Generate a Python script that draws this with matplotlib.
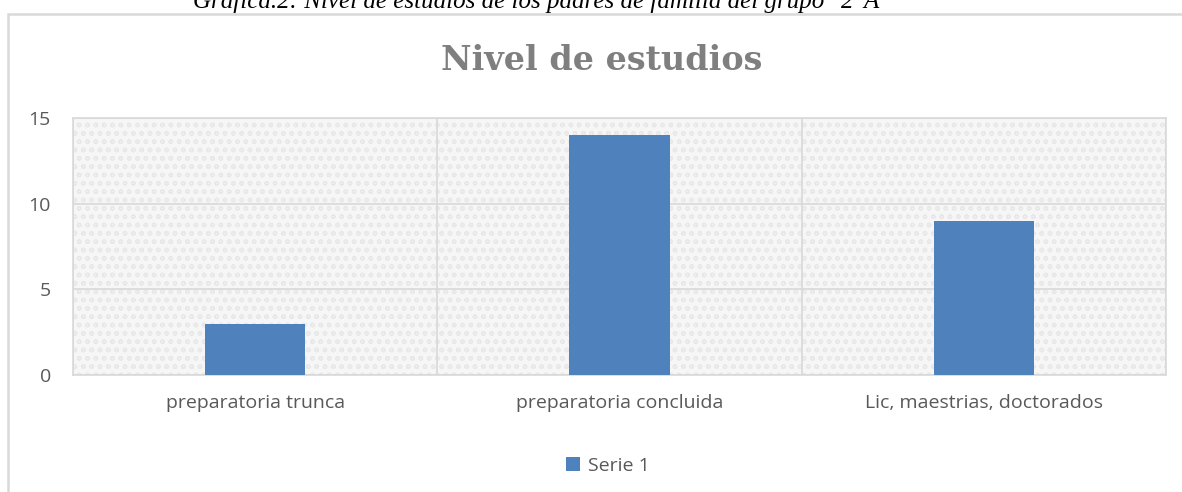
import matplotlib.pyplot as plt
from matplotlib.patches import Rectangle
import numpy as np

categories = ['preparatoria trunca', 'preparatoria concluida', 'Lic, maestrias, doctorados']
values = [3, 14, 9]
series_name = 'Serie 1'
title = 'Nivel de estudios'
caption = 'Gráfica.2: Nivel de estudios de los padres de familia del grupo "2"A'

W, H = 1182, 492
fig = plt.figure(figsize=(W / 100, H / 100), dpi=100)

# outer chart border (runs off the right and bottom edges, like the reference)
fig.patches.append(Rectangle((8 / W, -0.05), 1.2, (H - 14) / H + 0.05, transform=fig.transFigure,
                             fill=False, edgecolor='#d9d9d9', linewidth=1.8))

# caption cut off at the top
fig.text(536 / W, 1 - 8 / H, caption, ha='center', va='baseline', fontsize=18,
         family='Liberation Serif', style='italic', color='black')

ax = fig.add_axes([73 / W, 1 - 375 / H, 1093 / W, 257 / H])
ax.set_facecolor('#f6f6f6')
ax.add_patch(Rectangle((0, 0), 1, 1, transform=ax.transAxes, facecolor='none',
                       hatch='oo', edgecolor='#e8e8e8', linewidth=0, zorder=0))

x = np.arange(len(categories))
bars = ax.bar(x, values, width=0.275, color='#4f81bd', zorder=3, label=series_name)

ax.set_xlim(-0.5, len(categories) - 0.5)
ax.set_ylim(0, 15)
ax.set_yticks([0, 5, 10, 15])
ax.set_xticks(x)
ax.set_xticklabels(categories)
ax.set_xticks(np.arange(len(categories) + 1) - 0.5, minor=True)
ax.grid(axis='y', color='#d9d9d9', linewidth=1.2, zorder=1)
ax.grid(axis='x', which='minor', color='#d9d9d9', linewidth=1.2, zorder=1)
ax.tick_params(axis='both', which='both', length=0, labelsize=14, labelcolor='#595959')
ax.tick_params(axis='y', pad=16)
ax.tick_params(axis='x', pad=14)
for lbl in ax.get_xticklabels() + ax.get_yticklabels():
    lbl.set_family('Open Sans')
for s in ax.spines.values():
    s.set_color('#d9d9d9')
    s.set_linewidth(1.2)

fig.text(602 / W, 1 - 70 / H, title, ha='center', va='baseline', fontsize=24,
         fontweight='bold', color='#7f7f7f', family='DejaVu Serif')

fig.legend(handles=[bars], labels=[series_name], loc='center', bbox_to_anchor=(608 / W, 1 - 466 / H),
           frameon=False, prop={'family': 'Open Sans', 'size': 14}, labelcolor='#595959',
           handlelength=0.7, handleheight=0.7, handletextpad=0.4)

fig.savefig('out.png', dpi=100)
